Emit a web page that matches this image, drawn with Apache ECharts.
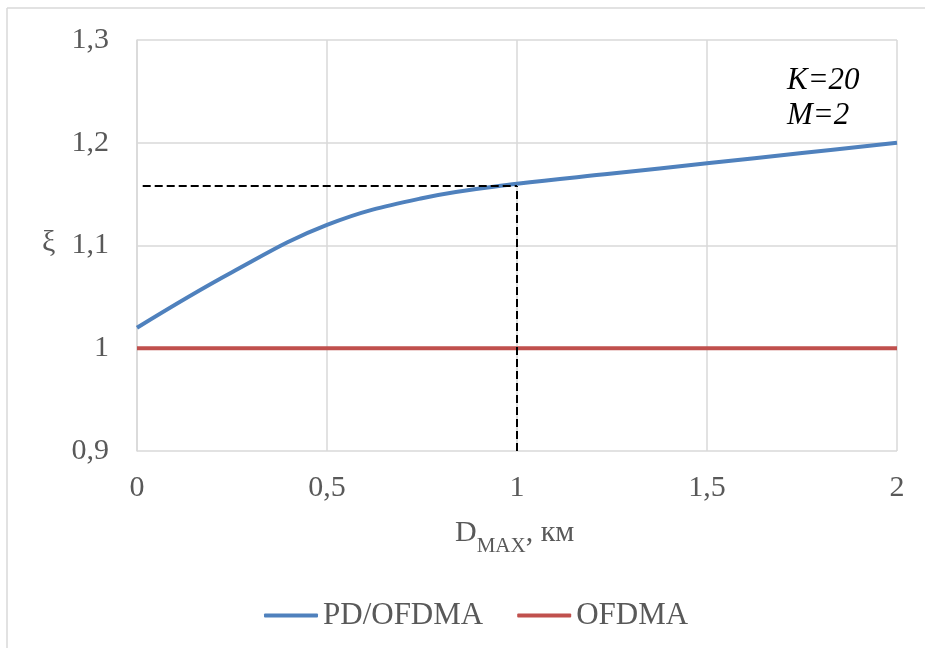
<!DOCTYPE html>
<html>
<head>
<meta charset="utf-8">
<script src="https://cdn.jsdelivr.net/npm/echarts@6/dist/echarts.min.js"></script>
<style>
  html, body { margin: 0; padding: 0; background: #fff; overflow: hidden; }
  #chart { width: 925px; height: 648px; }
</style>
</head>
<body>
<div id="chart"></div>
<script>
// Distance D_MAX, km
const dmax = [0, 0.25, 0.5, 0.75, 1, 1.25, 1.5, 1.75, 2];
// Gain ξ for PD/OFDMA
const pdOfdma = [1.02, 1.074, 1.12, 1.146, 1.16, 1.17, 1.18, 1.19, 1.2];
// Reference OFDMA
const ofdma = [1, 1, 1, 1, 1, 1, 1, 1, 1];
// Guide lines marking the value at D_MAX = 1 km
const guideH = [[0.015, 1.158], [1, 1.158]];
const guideV = [[1, 0.9], [1, 1.158]];
const yTicks = { min: 0.9, max: 1.3, step: 0.1 };
const xTicks = { min: 0, max: 2, step: 0.5 };

const FONT = '"Liberation Serif", "Times New Roman", serif';
const GRAY = '#595959';

const fmt = v => String(Math.round(v * 10) / 10).replace('.', ',');
const pairs = (xs, ys) => xs.map((x, i) => [x, ys[i]]);

const chart = echarts.init(document.getElementById('chart'), null, { renderer: 'canvas' });
chart.setOption({
  backgroundColor: '#fff',
  animation: false,
  textStyle: { fontFamily: FONT },
  grid: { left: 137, right: 28, top: 40, bottom: 197, containLabel: false },
  xAxis: {
    type: 'value', min: xTicks.min, max: xTicks.max, interval: xTicks.step,
    axisLine: { show: false },
    axisTick: { show: false },
    splitLine: { show: true, lineStyle: { color: '#d9d9d9', width: 1.5 } },
    axisLabel: { formatter: fmt, color: GRAY, fontSize: 30, fontFamily: FONT, margin: 22 }
  },
  yAxis: {
    type: 'value', min: yTicks.min, max: yTicks.max, interval: yTicks.step,
    axisLine: { show: true, lineStyle: { color: '#d9d9d9', width: 1.5 } },
    axisTick: { show: false },
    splitLine: { show: true, lineStyle: { color: '#d9d9d9', width: 1.5 } },
    axisLabel: { formatter: fmt, color: GRAY, fontSize: 30, fontFamily: FONT, margin: 28 }
  },
  legend: {
    top: 595, left: 259,
    itemWidth: 54, itemHeight: 4, itemGap: 34,
    icon: 'roundRect',
    textStyle: { color: GRAY, fontSize: 31, fontFamily: FONT },
    data: ['PD/OFDMA', 'OFDMA']
  },
  series: [
    {
      name: 'OFDMA', type: 'line', data: pairs(dmax, ofdma),
      showSymbol: false, symbol: 'none',
      lineStyle: { color: '#C0504D', width: 4 }, itemStyle: { color: '#C0504D' }, z: 3
    },
    {
      name: 'PD/OFDMA', type: 'line', data: pairs(dmax, pdOfdma),
      smooth: 0.4, showSymbol: false, symbol: 'none',
      lineStyle: { color: '#4F81BD', width: 4 }, itemStyle: { color: '#4F81BD' }, z: 4
    },
    {
      name: 'guideH', type: 'line', data: guideH, symbol: 'none', silent: true,
      lineStyle: { color: '#000', width: 2, type: [8, 4] }, z: 5
    },
    {
      name: 'guideV', type: 'line', data: guideV, symbol: 'none', silent: true,
      lineStyle: { color: '#000', width: 2, type: [8, 4] }, z: 5
    }
  ],
  graphic: [
    // chart frame: only the top and left edges fall inside the canvas
    {
      type: 'line', silent: true,
      shape: { x1: 7, y1: 8, x2: 925, y2: 8 },
      style: { stroke: '#d9d9d9', lineWidth: 1.5 }
    },
    {
      type: 'line', silent: true,
      shape: { x1: 7, y1: 8, x2: 7, y2: 648 },
      style: { stroke: '#d9d9d9', lineWidth: 1.5 }
    },
    {
      type: 'text', left: 42, top: 228,
      style: { text: 'ξ', fill: GRAY, font: '30px ' + FONT }
    },
    {
      type: 'text', left: 787, top: 63,
      style: { text: 'K=20\nM=2', fill: '#000', font: 'italic 31px ' + FONT, lineHeight: 35 }
    },
    {
      type: 'text', left: 455, top: 518,
      style: {
        text: '{a|D}{b|MAX}{a|, км}',
        rich: {
          a: { fill: GRAY, fontSize: 30, fontFamily: FONT, lineHeight: 36, verticalAlign: 'middle' },
          b: { fill: GRAY, fontSize: 21, fontFamily: FONT, lineHeight: 36, verticalAlign: 'bottom', padding: [0, 0, -6, 0] }
        }
      }
    }
  ]
});
</script>
</body>
</html>
